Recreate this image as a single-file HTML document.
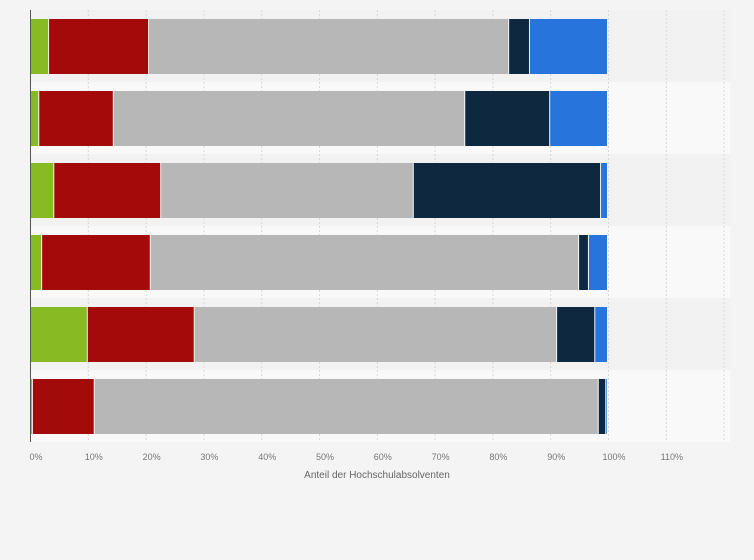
<!DOCTYPE html>
<html><head><meta charset="utf-8"><style>
body{margin:0;background:#f4f4f4;font-family:"Liberation Sans",sans-serif}
svg{display:block}
</style></head><body>
<svg id="chart" width="754" height="560" xmlns="http://www.w3.org/2000/svg">
<rect width="754" height="560" fill="#f4f4f4"/>
<g id="bands"></g><g id="grid"></g><g id="bars"></g><g id="ticks"></g>
<line x1="30.5" y1="10" x2="30.5" y2="442" stroke="#555" stroke-width="1"/>
<text x="377" y="478" text-anchor="middle" font-size="10" fill="#666">Anteil der Hochschulabsolventen</text>
</svg>
<script>
const seriesNames=["green","red","grey","navy","blue"];
const colors=["#86bb24","#a30a0a","#b7b7b7","#0e2840","#2775dc"];
const green=[3.3,1.6,4.2,2.1,10,0.5];
const red=[17.3,12.9,18.5,18.8,18.5,10.7];
const grey=[62.3,60.8,43.7,74.1,62.7,87.2];
const navy=[3.6,14.7,32.4,1.7,6.6,1.3];
const blue=[13.5,10,1.2,3.3,2.2,0.3];
const tickLabels=["0%","10%","20%","30%","40%","50%","60%","70%","80%","90%","100%","110%"];
const series=[green,red,grey,navy,blue];
const ns="http://www.w3.org/2000/svg";
const x0=30,pxPer=5.78,plotTop=10,band=72;
const xs=v=>x0+v*pxPer;
function mk(tag,attrs,parent){const e=document.createElementNS(ns,tag);for(const k in attrs)e.setAttribute(k,attrs[k]);document.getElementById(parent).appendChild(e);return e;}
const n=green.length;
for(let i=0;i<n;i++){
 const b=mk("rect",{x:30,y:plotTop+i*band,width:700,height:band,fill:i%2?"#f9f9f9":"#f2f2f2"},"bands");
 
 
}
for(let t=1;t<=12;t++){
 const g=mk("line",{x1:xs(t*10)+.5,x2:xs(t*10)+.5,y1:plotTop,y2:442,stroke:"#d8d8d8","stroke-dasharray":"2,2"},"grid");
 
 
}
for(let i=0;i<n;i++){
 let acc=0;
 for(let s=0;s<series.length;s++){
  const v=series[s][i];
  const r=mk("rect",{x:xs(acc),y:plotTop+i*band+9,width:Math.max(0,v*pxPer-1),height:55,fill:colors[s]},"bars");
  
  
  acc+=v;
 }
}
tickLabels.forEach((l,i)=>{
 const t=mk("text",{x:xs(i*10)+6,y:460,"text-anchor":"middle","font-size":"9",fill:"#777"},"ticks");
 t.textContent=l;
 
 
});
</script>
</body></html>
